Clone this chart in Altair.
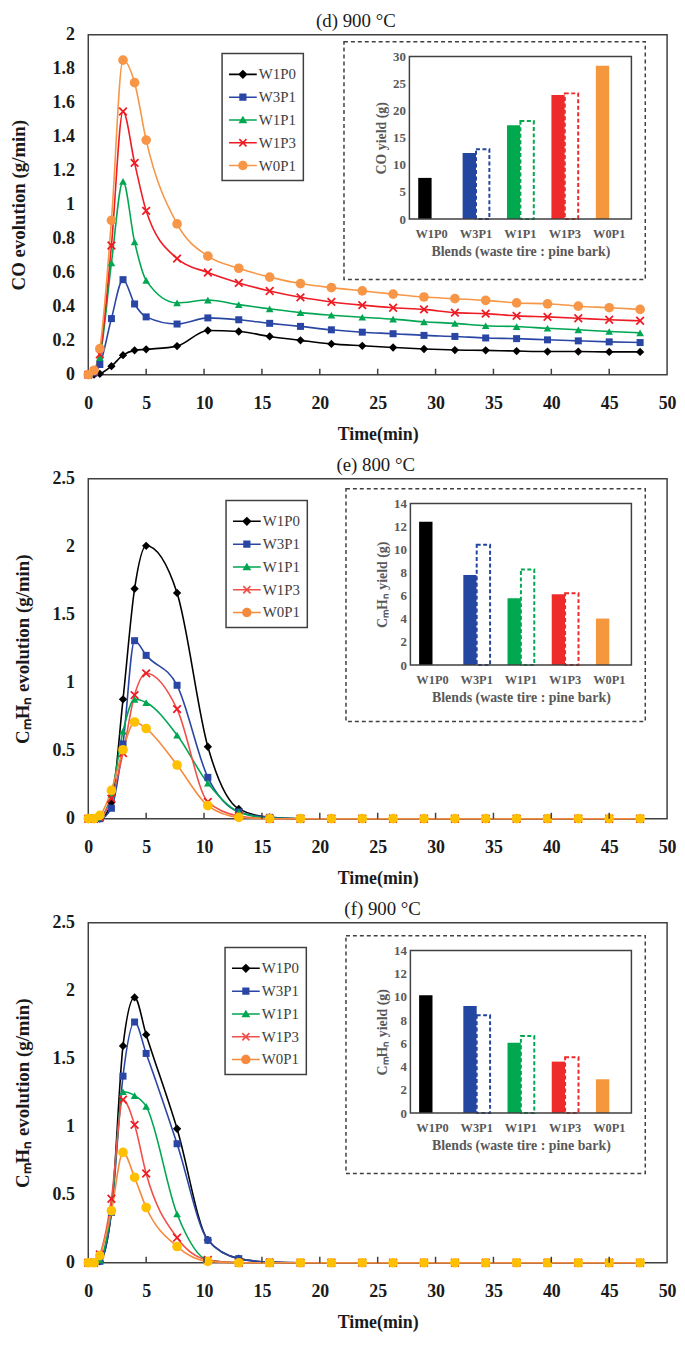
import altair as alt
import pandas as pd

FONT = "Liberation Serif, Times New Roman, serif"

# ---------------- data ----------------
TIME_MIN = [0, 0.5, 1, 2, 3, 4, 5, 7.67, 10.33, 13, 15.67, 18.33, 21, 23.67,
            26.33, 29, 31.67, 34.33, 37, 39.67, 42.33, 45, 47.67]
BLENDS = ["W1P0", "W3P1", "W1P1", "W1P3", "W0P1"]
DASHED_BLENDS = ["W3P1", "W1P1", "W1P3"]
X_TICKS = [0, 5, 10, 15, 20, 25, 30, 35, 40, 45, 50]
INNER_TICKS = [5, 10, 15, 20, 25, 30, 35, 40, 45]

# (d) CO evolution, 900 C
CO900_W1P0 = [0, 0, 0.005, 0.05, 0.115, 0.143, 0.149, 0.168, 0.26, 0.254, 0.225, 0.202,
              0.181, 0.17, 0.16, 0.151, 0.145, 0.143, 0.139, 0.136, 0.136, 0.134, 0.134]
CO900_W3P1 = [0, 0.01, 0.06, 0.33, 0.559, 0.416, 0.34, 0.298, 0.334, 0.323, 0.302, 0.284,
              0.264, 0.25, 0.241, 0.231, 0.225, 0.216, 0.212, 0.205, 0.199, 0.193, 0.189]
CO900_W1P1 = [0, 0.02, 0.1, 0.658, 1.137, 0.781, 0.555, 0.422, 0.439, 0.412, 0.387, 0.365,
              0.35, 0.338, 0.327, 0.311, 0.302, 0.288, 0.283, 0.273, 0.264, 0.254, 0.246]
CO900_W1P3 = [0, 0.02, 0.12, 0.76, 1.548, 1.246, 0.964, 0.683, 0.601, 0.54, 0.492, 0.455,
              0.428, 0.409, 0.394, 0.384, 0.365, 0.359, 0.346, 0.34, 0.332, 0.323, 0.317]
CO900_W0P1 = [0, 0.025, 0.153, 0.908, 1.851, 1.718, 1.38, 0.887, 0.697, 0.626, 0.574, 0.536,
              0.512, 0.493, 0.474, 0.457, 0.447, 0.437, 0.422, 0.417, 0.403, 0.394, 0.384]
CO900_YIELD = [7.6, 12.2, 17.3, 22.9, 28.3]
CO900_YIELD_DASHED = [12.9, 18.1, 23.2]

# (e) CmHn evolution, 800 C
HC800_W1P0 = [0, 0, 0, 0.12, 0.878, 1.691, 2.007, 1.66, 0.529, 0.072, 0.01, 0,
              0, 0, 0, 0, 0, 0, 0, 0, 0, 0, 0]
HC800_W3P1 = [0, 0, 0, 0.077, 0.55, 1.309, 1.201, 0.981, 0.304, 0.05, 0.01, 0,
              0, 0, 0, 0, 0, 0, 0, 0, 0, 0, 0]
HC800_W1P1 = [0, 0, 0.01, 0.18, 0.643, 0.878, 0.854, 0.615, 0.261, 0.05, 0.005, 0,
              0, 0, 0, 0, 0, 0, 0, 0, 0, 0, 0]
HC800_W1P3 = [0, 0, 0.01, 0.148, 0.483, 0.909, 1.069, 0.806, 0.124, 0.02, 0, 0,
              0, 0, 0, 0, 0, 0, 0, 0, 0, 0, 0]
HC800_W0P1 = [0, 0, 0.024, 0.208, 0.507, 0.711, 0.663, 0.395, 0.096, 0.01, 0, 0,
              0, 0, 0, 0, 0, 0, 0, 0, 0, 0, 0]
HC800_YIELD = [12.43, 7.8, 5.8, 6.14, 4.03]
HC800_YIELD_DASHED = [10.43, 8.29, 6.23]

# (f) CmHn evolution, 900 C
HC900_W1P0 = [0, 0, 0.01, 0.38, 1.594, 1.951, 1.677, 0.985, 0.167, 0.03, 0.005, 0,
              0, 0, 0, 0, 0, 0, 0, 0, 0, 0, 0]
HC900_W3P1 = [0, 0, 0.01, 0.37, 1.372, 1.77, 1.539, 0.875, 0.165, 0.03, 0.005, 0,
              0, 0, 0, 0, 0, 0, 0, 0, 0, 0, 0]
HC900_W1P1 = [0, 0, 0.02, 0.4, 1.257, 1.229, 1.15, 0.358, 0.02, 0, 0, 0,
              0, 0, 0, 0, 0, 0, 0, 0, 0, 0, 0]
HC900_W1P3 = [0, 0, 0.06, 0.47, 1.198, 1.014, 0.656, 0.184, 0.02, 0, 0, 0,
              0, 0, 0, 0, 0, 0, 0, 0, 0, 0, 0]
HC900_W0P1 = [0, 0, 0.052, 0.382, 0.811, 0.627, 0.406, 0.119, 0.01, 0, 0, 0,
              0, 0, 0, 0, 0, 0, 0, 0, 0, 0, 0]
HC900_YIELD = [10.14, 9.23, 6.06, 4.43, 2.91]
HC900_YIELD_DASHED = [8.43, 6.63, 4.8]

# ---------------- styles ----------------
LINE_D = ["#000000", "#2a46a5", "#00a651", "#ee1c24", "#f79646"]
PTS_D = ["#000000", "#2a46a5", "#00a651", "#ee1c24", "#f79646"]
LINE_EF = ["#000000", "#2a46a5", "#00a651", "#f0504a", "#f58a3c"]
PTS_EF = ["#000000", "#2a46a5", "#00a651", "#ee1c24", "#ffc000"]
BAR_COLORS = ["#000000", "#2346a0", "#00a84f", "#ee2a2a", "#f5973c"]


def poly(pts, s=1.0):
    return "M" + "L".join(f"{x*s:.3f},{y*s:.3f}" for x, y in pts) + "Z"


A = 0.28
X_PTS = [(0, -A), (1 - A, -1), (1, -1 + A), (A, 0), (1, 1 - A), (1 - A, 1), (0, A),
         (-1 + A, 1), (-1, 1 - A), (-A, 0), (-1, -1 + A), (-1 + A, -1)]
X_PATH = poly(X_PTS)
PT_SHAPES = ["diamond", "square", "triangle-up", X_PATH, "circle"]
PT_SIZES = [70, 50, 60, 80, 95]

LINE_SEG = "M-1,-0.055H1V0.055H-1Z"
LEG_PATHS = [
    LINE_SEG + "M0,-0.34L0.34,0L0,0.34L-0.34,0Z",
    LINE_SEG + "M-0.26,-0.26H0.26V0.26H-0.26Z",
    LINE_SEG + "M0,-0.3L0.32,0.24H-0.32Z",
    LINE_SEG + poly(X_PTS, 0.3),
    LINE_SEG + "M0.34,0A0.34,0.34 0 1,1 -0.34,0A0.34,0.34 0 1,1 0.34,0Z",
]

W = 584
H = 343
TXT = "#1a1a1a"
GRAY = "#595959"


def make_panel(vals, yld, yld_dash, title, title_dx, ymax, yvals, ytitle, ytp,
               leg_xy, inset, box, iymax, iyvals, iytitle, line_colors, pt_colors):
    rows = []
    for s in BLENDS:
        for t, v in zip(TIME_MIN, vals[s]):
            rows.append({"time": t, "value": v, "series": s})
    df = pd.DataFrame(rows)

    xs = alt.Scale(domain=[0, 50], nice=False, zero=False)
    ys = alt.Scale(domain=[0, ymax], nice=False)
    xaxis = alt.Axis(values=X_TICKS, format="d", title="Time(min)", labelFont=FONT,
                     titleFont=FONT, labelFontSize=18, labelFontWeight="bold",
                     labelColor=TXT, titleFontSize=18, titleFontWeight="bold",
                     titleColor=TXT, ticks=False, domain=False, labelPadding=20,
                     titlePadding=13, labelFlush=False, grid=False)
    yaxis = alt.Axis(values=yvals, format="~g", title=ytitle, labelFont=FONT, titleFont=FONT,
                     labelFontSize=18, labelFontWeight="bold", labelColor=TXT,
                     titleFontSize=19, titleFontWeight="bold", titleColor=TXT, ticks=False,
                     domain=False, labelPadding=14, titlePadding=ytp, labelFlush=False,
                     grid=False)
    X = alt.X("time:Q", scale=xs, axis=xaxis)
    Y = alt.Y("value:Q", scale=ys, axis=yaxis)
    base = alt.Chart(df).encode(x=X, y=Y)

    lines = base.mark_line(interpolate="monotone", strokeWidth=1.6).encode(
        color=alt.Color("series:N", scale=alt.Scale(domain=BLENDS, range=line_colors), legend=None))
    points = base.mark_point(filled=True, opacity=1, strokeWidth=0).encode(
        fill=alt.Fill("series:N", scale=alt.Scale(domain=BLENDS, range=pt_colors), legend=None),
        shape=alt.Shape("series:N", scale=alt.Scale(domain=BLENDS, range=PT_SHAPES), legend=None),
        size=alt.Size("series:N", scale=alt.Scale(type="ordinal", domain=BLENDS, range=PT_SIZES),
                      legend=None))
    ticks = alt.Chart(pd.DataFrame({"time": INNER_TICKS})).mark_rule(
        color="#404040", strokeWidth=1.5).encode(x=X, y=alt.value(H), y2=alt.value(H - 6))

    leg_kw = dict(title=None, orient="none", legendX=leg_xy[0], legendY=leg_xy[1],
                  labelFont=FONT, labelFontSize=15, labelColor="#404040",
                  strokeColor="#404040", fillColor="white", padding=7, rowPadding=1,
                  symbolSize=784, symbolStrokeWidth=0, labelOffset=2, symbolOpacity=1)
    leg = base.mark_point(filled=True, opacity=1, size=784).encode(
        color=alt.Color("series:N", scale=alt.Scale(domain=BLENDS, range=line_colors),
                        legend=alt.Legend(**leg_kw)),
        shape=alt.Shape("series:N", scale=alt.Scale(domain=BLENDS, range=LEG_PATHS),
                        legend=alt.Legend(**leg_kw)),
    ).transform_filter("false")

    main = alt.layer(lines, points, ticks, leg).resolve_scale(
        color="independent", fill="independent", shape="independent", size="independent")

    L, T, R, B = inset
    ixaxis = alt.Axis(orient="bottom", offset=B - H, labelAngle=0, labelFont=FONT,
                      titleFont=FONT, labelFontSize=12.5, labelFontWeight="bold",
                      labelColor=GRAY, ticks=False, domain=False, labelPadding=9,
                      title="Blends (waste tire : pine bark)", titleFontSize=14,
                      titleFontWeight="bold", titleColor=GRAY, titlePadding=4, grid=False)
    iyaxis = alt.Axis(orient="left", offset=-L, values=iyvals, labelFont=FONT, titleFont=FONT,
                      labelFontSize=13, labelFontWeight="bold", labelColor=GRAY, ticks=False,
                      domain=False, labelPadding=4, title=iytitle, titleFontSize=14,
                      titleFontWeight="bold", titleColor=GRAY, titlePadding=4,
                      labelFlush=False, grid=False)
    IX = alt.X("blend:N", sort=BLENDS,
               scale=alt.Scale(domain=BLENDS, range=[L, R], paddingInner=0, paddingOuter=0),
               axis=ixaxis)
    IY = alt.Y("yield:Q", scale=alt.Scale(domain=[0, iymax], range=[B, T], nice=False),
               axis=iyaxis)
    solid = alt.Chart(pd.DataFrame({"blend": BLENDS, "yield": yld})).mark_bar(
        width=13.5, xOffset=-6.75).encode(
        x=IX, y=IY,
        fill=alt.Fill("blend:N", scale=alt.Scale(domain=BLENDS, range=BAR_COLORS), legend=None))
    dashed = alt.Chart(pd.DataFrame({"blend": DASHED_BLENDS, "yield": yld_dash})).mark_bar(
        width=13.5, xOffset=6.75, fill="white", strokeWidth=2, strokeDash=[4, 2.5]).encode(
        x=IX, y=IY,
        stroke=alt.Stroke("blend:N", scale=alt.Scale(domain=BLENDS, range=BAR_COLORS),
                          legend=None))
    one = pd.DataFrame({"k": [0]})
    frame = alt.Chart(one).mark_rect(fill="transparent", stroke="#404040", strokeWidth=1.5).encode(
        x=alt.value(L), x2=alt.value(R), y=alt.value(T), y2=alt.value(B))
    bL, bT, bR, bB = box
    dbox = alt.Chart(one).mark_rect(fill="transparent", stroke="#404040", strokeWidth=1.5,
                                    strokeDash=[4, 3]).encode(
        x=alt.value(bL), x2=alt.value(bR), y=alt.value(bT), y2=alt.value(bB))
    inset_layer = alt.layer(dbox, solid, dashed, frame)

    return alt.layer(main, inset_layer).resolve_scale(
        x="independent", y="independent", color="independent", fill="independent",
        stroke="independent", shape="independent", size="independent"
    ).resolve_axis(x="independent", y="independent").properties(
        width=W, height=H,
        title=alt.TitleParams(title, font=FONT, fontSize=19, fontWeight="normal",
                              color=TXT, offset=-5, dx=title_dx, anchor="middle"))


pd_ = make_panel(
    {"W1P0": CO900_W1P0, "W3P1": CO900_W3P1, "W1P1": CO900_W1P1, "W1P3": CO900_W1P3,
     "W0P1": CO900_W0P1},
    CO900_YIELD, CO900_YIELD_DASHED, "(d) 900 °C", -22, 2,
    [0, 0.2, 0.4, 0.6, 0.8, 1, 1.2, 1.4, 1.6, 1.8, 2], "CO evolution (g/min)", 24,
    (135, 19), (324, 22, 548, 186), (258, 7, 562, 247), 30, [0, 5, 10, 15, 20, 25, 30],
    "CO yield (g)", LINE_D, PTS_D)

pe = make_panel(
    {"W1P0": HC800_W1P0, "W3P1": HC800_W3P1, "W1P1": HC800_W1P1, "W1P3": HC800_W1P3,
     "W0P1": HC800_W0P1},
    HC800_YIELD, HC800_YIELD_DASHED, "(e) 800 °C", -2, 2.5,
    [0, 0.5, 1, 1.5, 2, 2.5], "CₘHₙ evolution (g/min)", 20,
    (139, 22), (325, 25, 548, 188), (260, 10, 562, 245), 14, [0, 2, 4, 6, 8, 10, 12, 14],
    "CₘHₙ yield (g)", LINE_EF, PTS_EF)

pf = make_panel(
    {"W1P0": HC900_W1P0, "W3P1": HC900_W3P1, "W1P1": HC900_W1P1, "W1P3": HC900_W1P3,
     "W0P1": HC900_W0P1},
    HC900_YIELD, HC900_YIELD_DASHED, "(f) 900 °C", 5, 2.5,
    [0, 0.5, 1, 1.5, 2, 2.5], "CₘHₙ evolution (g/min)", 20,
    (138, 25), (325, 28, 548, 192), (260, 13, 562, 253), 14, [0, 2, 4, 6, 8, 10, 12, 14],
    "CₘHₙ yield (g)", LINE_EF, PTS_EF)

chart = alt.vconcat(pd_, pe, pf, spacing=105, bounds="flush").resolve_scale(
    x="independent", y="independent", color="independent", fill="independent",
    stroke="independent", shape="independent", size="independent"
).properties(
    padding={"left": 0, "top": -3, "right": 0, "bottom": 0}, background="white"
).configure_view(stroke="#404040", strokeWidth=1.5).configure_axis(
    grid=False, labelFont=FONT, titleFont=FONT).configure_title(font=FONT).configure_legend(
    strokeWidth=1.5, labelFont=FONT)

chart.save("out.html", embed_options={"renderer": "svg", "actions": False})
